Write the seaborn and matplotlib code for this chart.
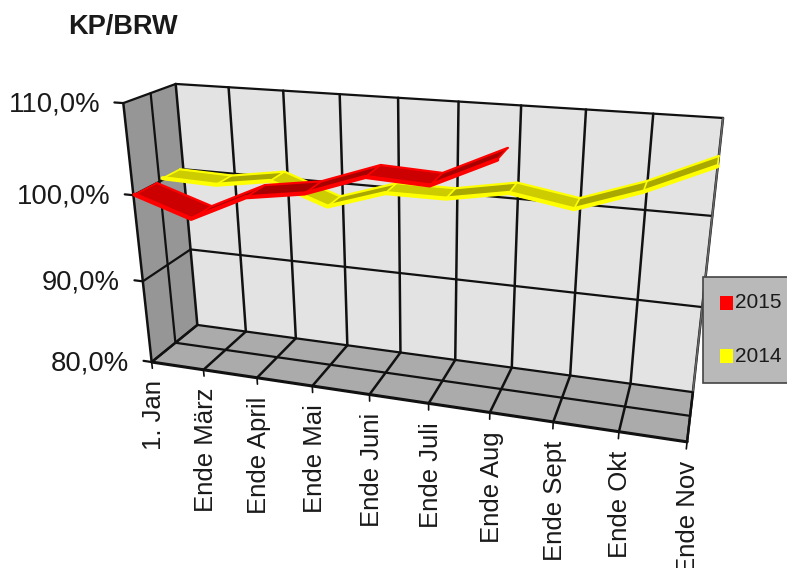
import numpy as np
import matplotlib
matplotlib.use('Agg')
import matplotlib.pyplot as plt
import seaborn as sns

# Daten
labels = ['1. Jan', 'Ende März', 'Ende April', 'Ende Mai', 'Ende Juni',
          'Ende Juli', 'Ende Aug', 'Ende Sept', 'Ende Okt', 'Ende Nov']
values_2015 = [100.0, 97.9, 100.9, 101.9, 104.2, 103.9, 107.0]
values_2014 = [100.2, 100.0, 101.0, 98.7, 100.8, 100.8, 102.0, 100.9, 103.3, 106.4]
y_ticks = [80, 90, 100, 110]
y_tick_labels = ['80,0%', '90,0%', '100,0%', '110,0%']

# Kamera aus den Ecken des Diagrammraums (x-Index, Wert, Tiefe -> Pixel)
corners = [((0, 110, 0), (123, 103)), ((0, 110, 1), (176, 84)), ((9, 110, 1), (723, 118)),
           ((0, 80, 0), (152, 362)), ((9, 80, 0), (687, 442)), ((0, 80, 1), (197, 325)),
           ((9, 80, 1), (693, 392))]
A, b = [], []
for (x, y, z), (u, v) in corners:
    A.append([x, y, z, 1, 0, 0, 0, 0, -u * x, -u * y, -u * z])
    A.append([0, 0, 0, 0, x, y, z, 1, -v * x, -v * y, -v * z])
    b += [u, v]
P = np.append(np.linalg.lstsq(np.array(A, float), np.array(b, float), rcond=None)[0], 1).reshape(3, 4)


def project(x, y, z):
    x, y, z = np.broadcast_arrays(np.atleast_1d(x).astype(float), np.atleast_1d(y).astype(float),
                                  np.atleast_1d(z).astype(float))
    w = P @ np.vstack([x.ravel(), y.ravel(), z.ravel(), np.ones(x.size)])
    return w[0] / w[2], w[1] / w[2]


sns.set_theme(style='white')
plt.rcParams['font.family'] = ['Liberation Sans', 'DejaVu Sans']

fig = plt.figure(figsize=(7.87, 5.68), dpi=100)
ax = fig.add_axes([0, 0, 1, 1])


def face(x, y, z, color, zorder=1):
    px, py = project(x, y, z)
    ax.fill(px, py, color=color, lw=0, zorder=zorder)


def line(x, y, z, color='#111111', lw=1.8, zorder=2):
    px, py = project(x, y, z)
    sns.lineplot(x=px, y=py, sort=False, estimator=None, errorbar=None, color=color,
                 linewidth=lw, ax=ax, zorder=zorder, legend=False)


# Wände und Boden
face([0, 9, 9, 0], [80, 80, 110, 110], [1, 1, 1, 1], '#e3e3e3')
face([0, 0, 0, 0], [80, 110, 110, 80], [0, 0, 1, 1], '#969696')
face([0, 9, 9, 0], [80, 80, 80, 80], [0, 0, 1, 1], '#ababab')

# Gitter
for i in range(len(labels)):
    line([i, i], [80, 110], [1, 1])
    line([i, i], [80, 80], [0, 1])
    line([i, i], [80, 79.2], [0, 0], lw=1.2)
for t in y_ticks:
    line([0, 9], [t, t], [1, 1], lw=1.6)
    line([0, 0, -0.16], [t, t, t], [1, 0, 0], lw=1.6)
line([0, 9], [80, 80], [0.5, 0.5], lw=1.6)
line([0, 0], [80, 110], [0.5, 0.5], lw=1.6)
line([0, 9], [80, 80], [0, 0], lw=2.2)
line([9, 9], [80, 110], [1, 1], color='#666666', lw=1.2)
line([9, 9], [80, 80], [0, 1], lw=1.6)
line([0, 0], [80, 110], [0, 0], lw=1.8)


def ribbon(values, z0, z1, bright, top, under, zorder):
    n = len(values)
    for i in range(n - 1):
        seg_x = [i, i + 1, i + 1, i]
        seg_y = [values[i], values[i + 1], values[i + 1], values[i]]
        seg_z = [z0, z0, z1, z1]
        rising = values[i + 1] > values[i]
        face(seg_x, seg_y, seg_z, under if rising else top, zorder)
        line([i + 1, i + 1], [values[i + 1]] * 2, [z0, z1], color=bright, lw=1.2, zorder=zorder + 0.1)
    x = np.arange(n)
    line(x, values, np.full(n, z0), color=bright, lw=3, zorder=zorder + 0.2)
    line(x, values, np.full(n, z1), color=bright, lw=1.6, zorder=zorder + 0.2)
    line([0, 0], [values[0]] * 2, [z0, z1], color=bright, lw=1.2, zorder=zorder + 0.2)


ribbon(values_2014, 0.57, 0.93, '#ffff00', '#cccc00', '#a8a800', 5)
ribbon(values_2015, 0.02, 0.45, '#ff0000', '#cc0000', '#a80000', 6)

# Achsenbeschriftung
for t, s in zip(y_ticks, y_tick_labels):
    px, py = project(0, t, 0)
    ax.text(px[0] - 23, py[0] + 1, s, ha='right', va='center', fontsize=19.8, color='#1a1a1a')
for i, s in enumerate(labels):
    px, py = project(i, 79.2, 0)
    ax.text(px[0] + 2, py[0] + 12, s, rotation=90, ha='center', va='top', fontsize=18.5,
            color='#1a1a1a', clip_on=True)

ax.text(68, 27, 'KP/BRW', fontsize=19.5, fontweight='bold', ha='left', va='center', color='#1a1a1a')

# Legende
ax.fill([703, 790, 790, 703], [277, 277, 383, 383], facecolor='#b9b9b9', edgecolor='#444444',
        lw=1.2, zorder=8)
for name, color, cy in [('2015', '#ff0000', 303), ('2014', '#ffff00', 356)]:
    ax.fill([720, 733, 733, 720], [cy - 7, cy - 7, cy + 7, cy + 7], color=color, lw=0, zorder=9)
    ax.text(735, cy, name, fontsize=15, ha='left', va='center', color='#1a1a1a', zorder=9)

ax.set_xlim(0, 787)
ax.set_ylim(568, 0)
ax.set_xlabel('')
ax.set_ylabel('')
ax.axis('off')
fig.savefig('out.png', dpi=100)
